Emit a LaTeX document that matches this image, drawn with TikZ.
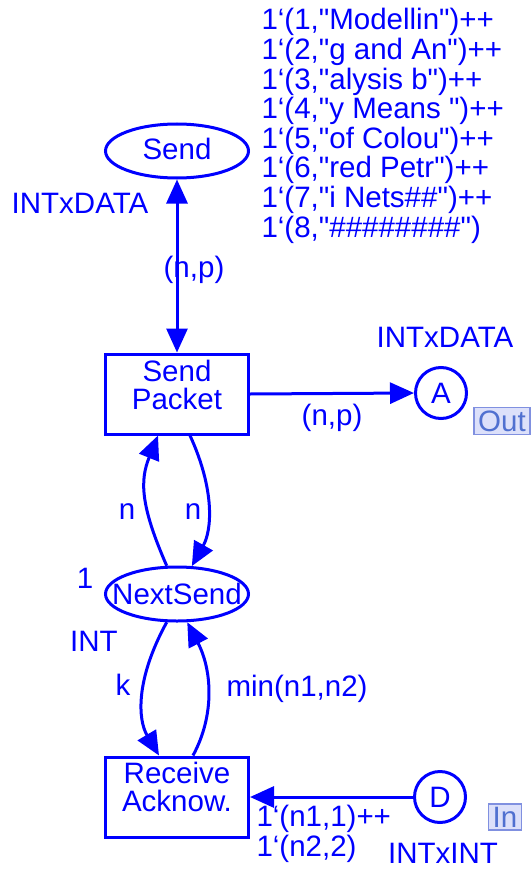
\documentclass[tikz,border=0pt]{standalone}
\usepackage{fontspec}
\setmainfont{Liberation Sans}[Ligatures=TeXOff]
\usetikzlibrary{arrows.meta,shapes.geometric}
\definecolor{cpnblue}{RGB}{0,0,255}
\definecolor{tagfill}{RGB}{220,224,250}
\definecolor{tagdraw}{RGB}{128,144,224}
\definecolor{tagtext}{RGB}{80,112,208}
\begin{document}
\begin{tikzpicture}
[x=1pt, y=-1pt, color=cpnblue, line width=3pt, font=\fontsize{29.5}{29.6}\selectfont,
 >={Triangle[length=24pt,width=21pt]}]
\tikzstyle{place}=[ellipse, draw, inner xsep=-15pt, inner ysep=0pt, minimum width=143pt, minimum height=54pt]
\tikzstyle{port}=[circle, draw, inner sep=0pt, minimum size=51pt]
\tikzstyle{trans}=[rectangle, draw, inner sep=0pt, minimum width=143pt, minimum height=80pt]
\tikzstyle{lbl}=[inner sep=0pt]
\tikzstyle{tag}=[draw=tagdraw, fill=tagfill, text=tagtext, line width=1.5pt, inner xsep=4pt, inner ysep=3pt]
\useasboundingbox (0,0) rectangle (530,869);

% places and transitions
\node[place]	(Send)		at (177,151)	{\raisebox{4pt}{Send}};
\node[trans, label={[lbl, align=center, yshift=9pt]center:Send\\[-1.5pt]Packet}]
		(SendPacket)	at (177,394)	{};
\node[place]	(NextSend)	at (177,594)	{NextSend};
\node[trans, label={[lbl, align=center, yshift=10pt]center:Receive\\[-1.5pt]Acknow.}]
		(Receive)	at (177,797)	{};
\node[port]	(A)		at (441,393)	{A};
\node[port]	(D)		at (440,797)	{D};

% inscriptions
\node[lbl]	(tSend)		at (80,203)	{INTxDATA};
\node[lbl, anchor=north west, align=left] (mSend) at (260,7)
	{1‘(1,"Modellin")++\\1‘(2,"g and An")++\\1‘(3,"alysis b")++\\1‘(4,"y Means ")++\\
	 1‘(5,"of Colou")++\\1‘(6,"red Petr")++\\1‘(7,"i Nets\#\#")++\\1‘(8,"\#\#\#\#\#\#\#\#")};
\node[lbl]	(tA)		at (445,337)	{INTxDATA};
\node[tag]	(outA)		at (502,421)	{Out};
\node[lbl]	(mNext)		at (85,578)	{1};
\node[lbl]	(tNext)		at (94,641)	{INT};
\node[lbl]	(tD)		at (443,853)	{INTxINT};
\node[tag]	(inD)		at (505,817)	{In};

\node[lbl]	(eSend)		at (194,270)	{(n,p)};
\node[lbl]	(eA)		at (332,418)	{(n,p)};
\node[lbl]	(eNin)		at (127,512)	{n};
\node[lbl]	(eNout)		at (193,512)	{n};
\node[lbl]	(eK)		at (123,685)	{k};
\node[lbl]	(eMin)		at (297,689)	{min(n1,n2)};
\node[lbl, anchor=west, align=left] (eD) at (255,834)	{1‘(n1,1)++\\1‘(n2,2)};

% arcs
\draw[<->]	(Send.south) -- (SendPacket.north);
\draw[->]	(SendPacket.east) -- (A.west);
\draw[->]	(NextSend.110) .. controls (140,505) and (140,480) .. ([xshift=-19pt]SendPacket.south);
\draw[->]	([xshift=13pt]SendPacket.south) .. controls (215,490) and (212,530) .. (NextSend.62);
\draw[->]	(NextSend.250) .. controls (135,680) and (138,720) .. ([xshift=-18pt]Receive.north);
\draw[->]	([xshift=16pt]Receive.north) .. controls (215,715) and (212,670) .. (NextSend.290);
\draw[->]	(D.west) -- (Receive.east);
\end{tikzpicture}
\end{document}
